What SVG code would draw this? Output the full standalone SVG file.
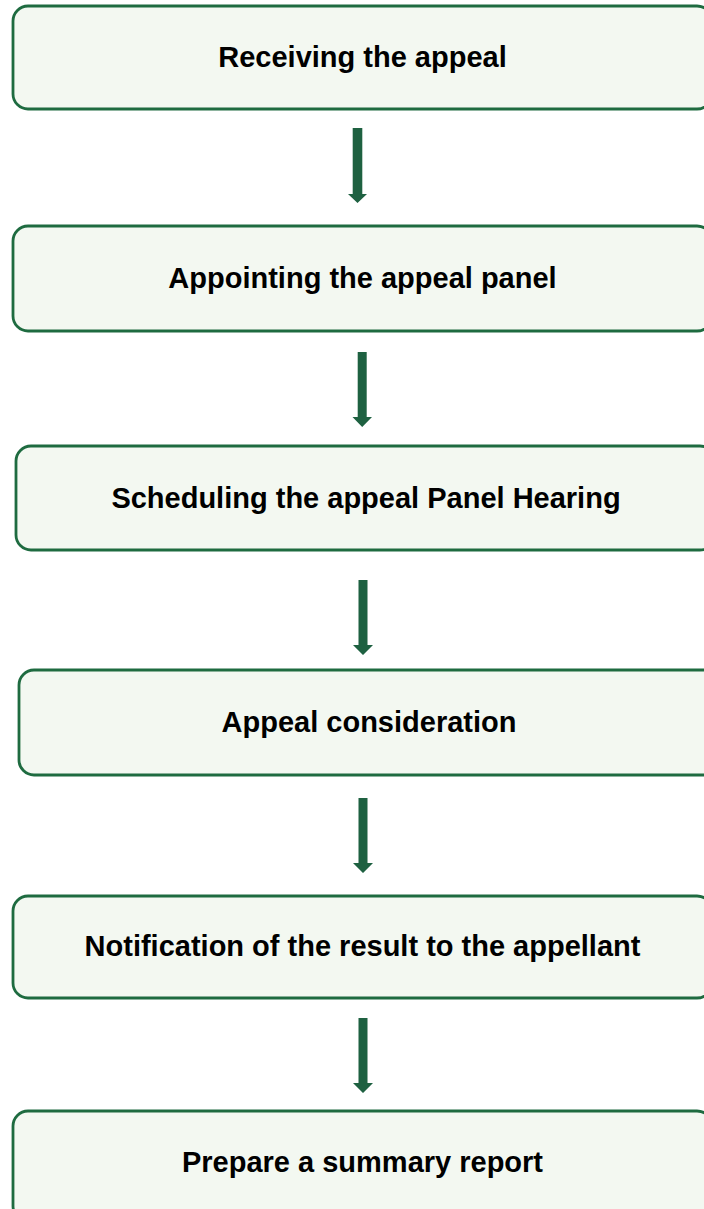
<svg xmlns="http://www.w3.org/2000/svg" width="704" height="1209" viewBox="0 0 704 1209">
<style>
.box{fill:#f3f8f1;stroke:#1e6b40;stroke-width:2.8}
.lbl{font-family:"Liberation Sans",Arial,sans-serif;font-weight:bold;font-size:29px;fill:#000;text-anchor:middle;dominant-baseline:central}
.arr{fill:#1e6141}
</style>
<rect width="704" height="1209" fill="#ffffff"/>
<g id="node1"><rect class="box" x="13" y="6" width="699" height="103" rx="15"/><text class="lbl" x="362.5" y="57">Receiving the appeal</text></g>
<g id="node2"><rect class="box" x="13" y="226" width="699" height="105" rx="15"/><text class="lbl" x="362.5" y="278">Appointing the appeal panel</text></g>
<g id="node3"><rect class="box" x="16" y="446" width="699" height="104" rx="15"/><text class="lbl" x="366" y="498">Scheduling the appeal Panel Hearing</text></g>
<g id="node4"><rect class="box" x="19" y="670" width="720" height="105" rx="15"/><text class="lbl" x="369" y="722">Appeal consideration</text></g>
<g id="node5"><rect class="box" x="13" y="896" width="699" height="102" rx="15"/><text class="lbl" x="362.5" y="946">Notification of the result to the appellant</text></g>
<g id="node6"><rect class="box" x="13" y="1111" width="699" height="110" rx="15"/><text class="lbl" x="362.5" y="1162">Prepare a summary report</text></g>
<g id="connectors">
<path class="arr" d="M352.7 128 H362.3 V194 H367 L357.5 203 L348 194 H352.7 Z"/>
<path class="arr" d="M357.7 352 H366.7 V417 H372 L362.2 427 L352.5 417 H357.7 Z"/>
<path class="arr" d="M358.5 580 H367.5 V645 H373 L363 655 L353 645 H358.5 Z"/>
<path class="arr" d="M358.5 798 H367.5 V863 H373 L363 873 L353 863 H358.5 Z"/>
<path class="arr" d="M358.5 1018 H367.5 V1083 H373 L363 1093 L353 1083 H358.5 Z"/>
</g>
</svg>
